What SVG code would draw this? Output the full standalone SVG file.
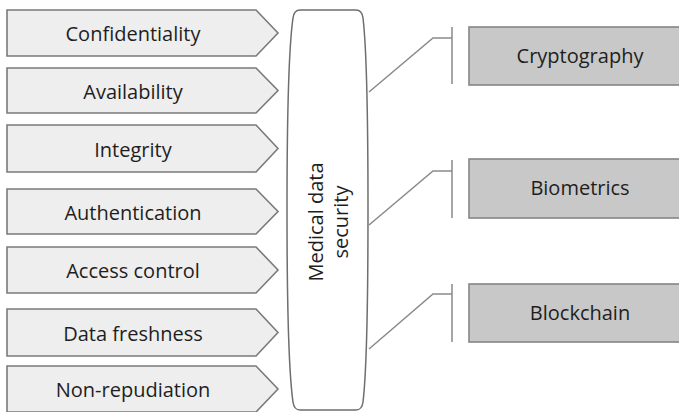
<svg xmlns="http://www.w3.org/2000/svg" width="679" height="412" viewBox="0 0 679 412">
<style>
.pent{fill:#eeeeee;stroke:#7a7a7a;stroke-width:1.6}
.box{fill:#c8c8c8;stroke:#858585;stroke-width:1.6}
.hub{fill:#ffffff;stroke:#6e6e6e;stroke-width:1.5}
.conn{fill:none;stroke:#8a8a8a;stroke-width:1.5}
text{font-family:"Open Sans","Liberation Sans",sans-serif;font-size:20px;fill:#1e1e1e;text-anchor:middle}
</style>
<rect width="679" height="412" fill="#ffffff"/>
<g id="confidentiality"><polygon class="pent" points="7,10 256,10 278,33 256,56 7,56"/><text x="133" y="41">Confidentiality</text></g>
<g id="availability"><polygon class="pent" points="7,68 256,68 278,90.5 256,113 7,113"/><text x="133" y="98.5">Availability</text></g>
<g id="integrity"><polygon class="pent" points="7,125 256,125 278,148.5 256,172 7,172"/><text x="133" y="156.5">Integrity</text></g>
<g id="authentication"><polygon class="pent" points="7,189 256,189 278,211.5 256,234 7,234"/><text x="133" y="220">Authentication</text></g>
<g id="access-control"><polygon class="pent" points="7,247 256,247 278,270 256,293 7,293"/><text x="133" y="278">Access control</text></g>
<g id="data-freshness"><polygon class="pent" points="7,309 256,309 278,332.5 256,356 7,356"/><text x="133" y="340.5">Data freshness</text></g>
<g id="non-repudiation"><polygon class="pent" points="7,366 256,366 278,389 256,412 7,412"/><text x="133" y="397">Non-repudiation</text></g>
<g id="medical-data-security">
<path class="hub" d="M 300,10 H 356 Q 362,10 363,18 Q 368,60 368,210 Q 368,360 363,402 Q 362,410 356,410 H 300 Q 294,410 293,402 Q 287,360 287,210 Q 287,60 293,18 Q 294,10 300,10 Z"/>
<text transform="translate(323,222) rotate(-90)">Medical data</text>
<text transform="translate(348,222) rotate(-90)">security</text>
</g>
<g id="connectors">
<path class="conn" d="M 369,92 L 433,38 H 452 M 452,27 V 84"/>
<path class="conn" d="M 369,225 L 433,171 H 452 M 452,160 V 218"/>
<path class="conn" d="M 369,349 L 433,294 H 452 M 452,284 V 342"/>
</g>
<g id="cryptography"><rect class="box" x="469" y="27" width="224" height="58"/><text x="580" y="63">Cryptography</text></g>
<g id="biometrics"><rect class="box" x="469" y="159" width="224" height="59"/><text x="580" y="195">Biometrics</text></g>
<g id="blockchain"><rect class="box" x="469" y="284" width="224" height="58"/><text x="580" y="320">Blockchain</text></g>
</svg>
